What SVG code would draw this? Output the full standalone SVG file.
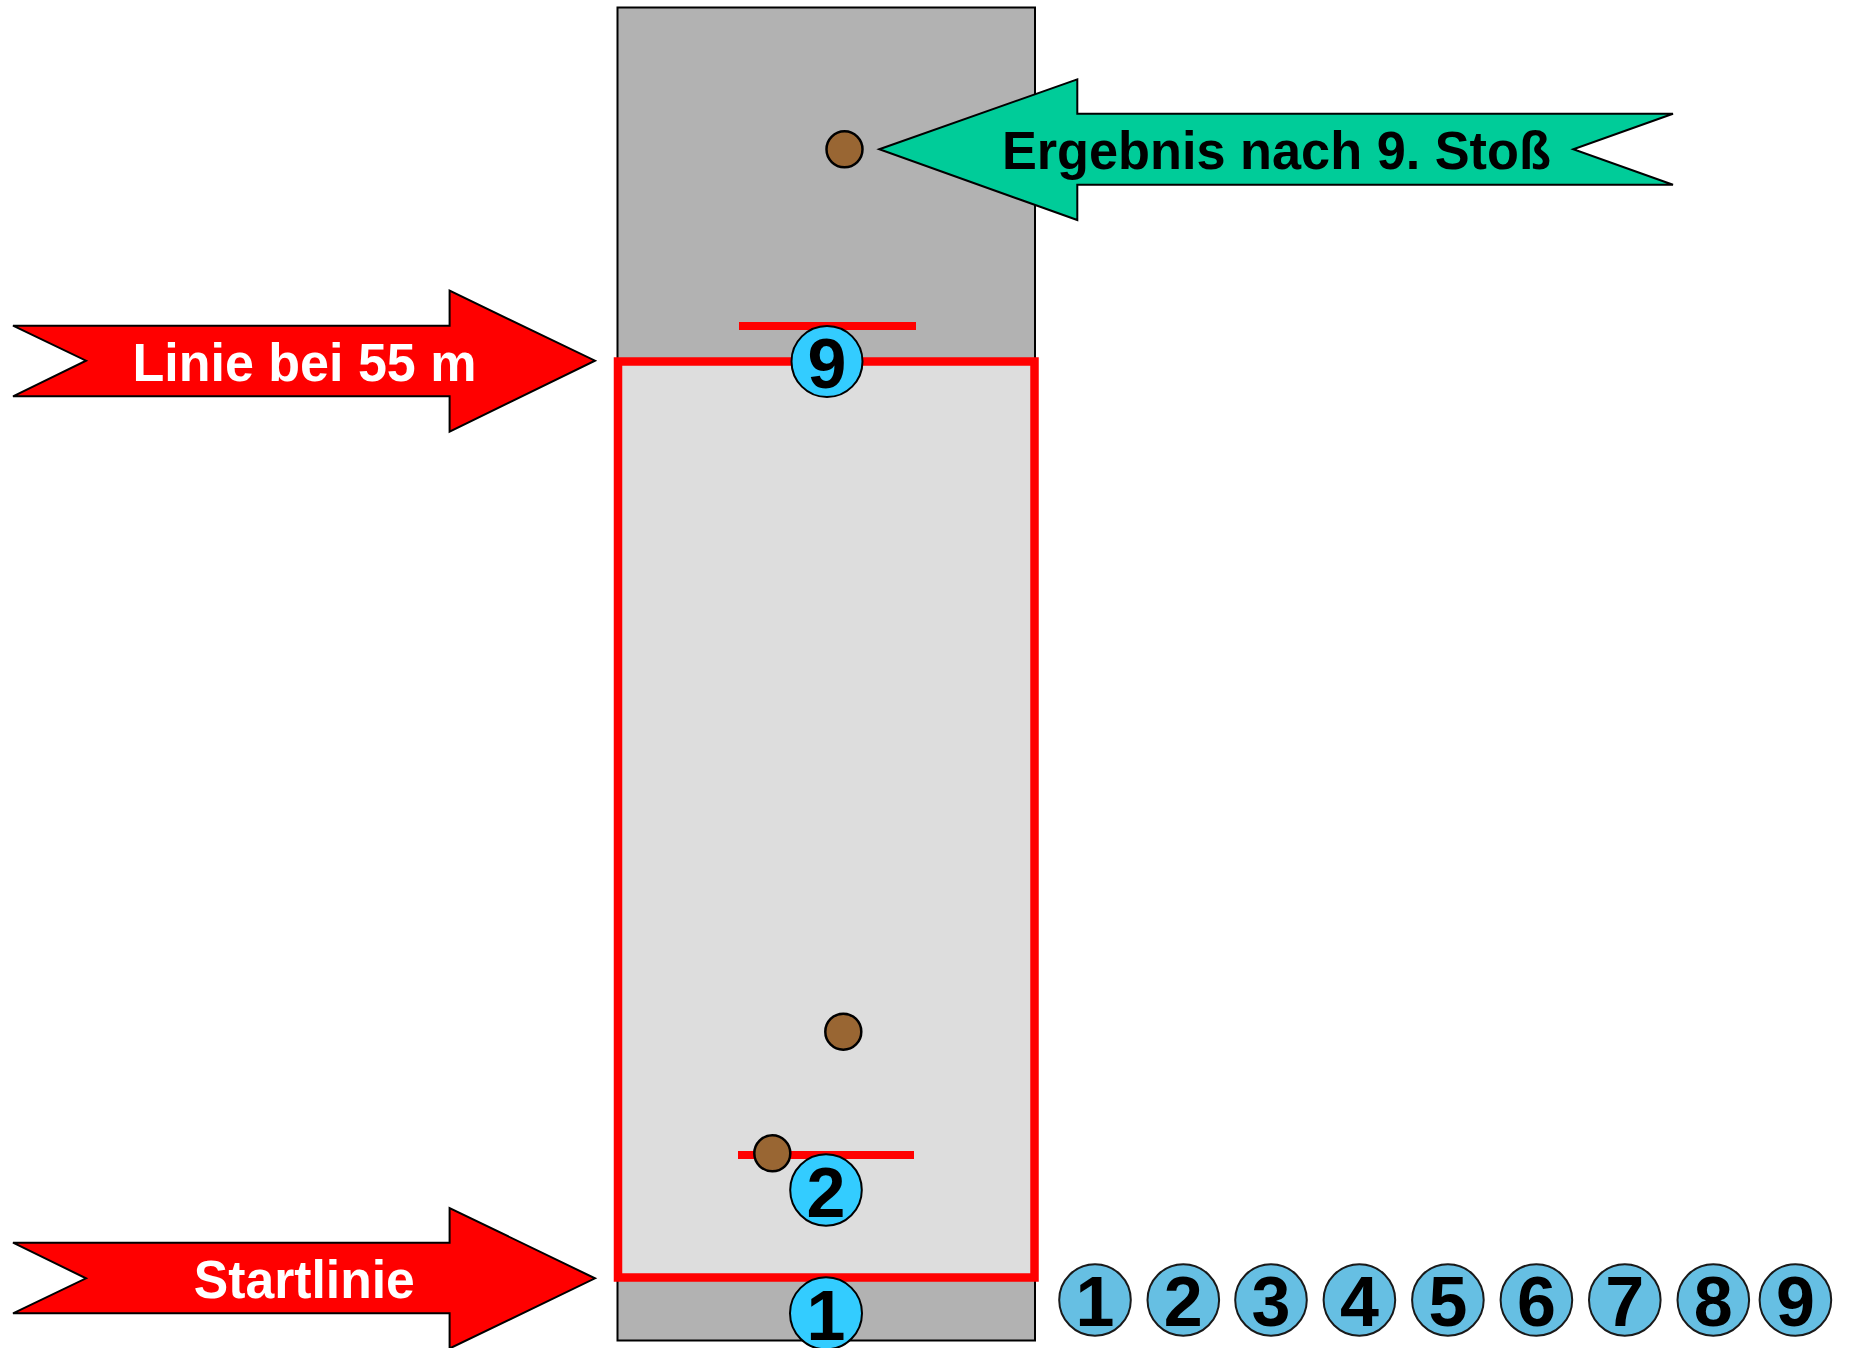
<svg xmlns="http://www.w3.org/2000/svg" width="1852" height="1348" viewBox="0 0 1852 1348">
<style>
.lbl{font-family:"Liberation Sans",Arial,sans-serif;font-weight:bold;font-size:53px;text-anchor:middle}
.num{font-family:"Liberation Sans",Arial,sans-serif;font-weight:bold;font-size:70px;text-anchor:middle;fill:#000}
.ball{fill:#996633;stroke:#000;stroke-width:2.5}
.mk{fill:#33ccff;stroke:#000;stroke-width:2}
.row{fill:#66bfe3;stroke:#1a1a1a;stroke-width:2}
.redline{stroke:#ff0000;stroke-width:8;fill:none}
.arrow{stroke:#000;stroke-width:2;stroke-linejoin:miter}
</style>
<rect width="1852" height="1348" fill="#ffffff"/>
<g id="lane">
<rect x="617.5" y="7.5" width="417.5" height="1333" fill="#b2b2b2" stroke="#000" stroke-width="2"/>
<rect x="618" y="361.5" width="416.5" height="916" fill="#dddddd" stroke="#ff0000" stroke-width="8.5"/>
</g>
<g id="line-top"><line class="redline" x1="739" y1="326" x2="916" y2="326"/></g>
<g id="line-bottom"><line class="redline" x1="738" y1="1155" x2="914" y2="1155"/></g>
<g id="marker-9"><circle class="mk" cx="827" cy="361.5" r="35.5"/><text class="num" x="827" y="388">9</text></g>
<g id="marker-2"><circle class="mk" cx="826" cy="1190" r="35.8"/><text class="num" x="826" y="1216.5">2</text></g>
<g id="marker-1"><circle class="mk" cx="826" cy="1313.3" r="36"/><text class="num" x="826" y="1340">1</text></g>
<g id="ball-top"><circle class="ball" cx="844.5" cy="149.3" r="18"/></g>
<g id="ball-mid"><circle class="ball" cx="843.3" cy="1031.7" r="18"/></g>
<g id="ball-low"><circle class="ball" cx="772.3" cy="1153.3" r="18"/></g>
<g id="arrow-result">
<polygon class="arrow" fill="#00cc99" points="879.3,149.3 1077.3,79.3 1077.3,113.8 1673,113.8 1573.3,149.3 1673,184.8 1077.3,184.8 1077.3,220"/>
<text class="lbl" x="1276.4" y="169.3" fill="#000" textLength="549" lengthAdjust="spacingAndGlyphs">Ergebnis nach 9. Stoß</text>
</g>
<g id="arrow-55m">
<polygon class="arrow" fill="#ff0000" points="13,325.7 449.6,325.7 449.6,290.7 595,360.7 449.6,431.7 449.6,396.3 13,396.3 86,360.7"/>
<text class="lbl" x="304.5" y="381" fill="#fff" textLength="344" lengthAdjust="spacingAndGlyphs">Linie bei 55 m</text>
</g>
<g id="arrow-start">
<polygon class="arrow" fill="#ff0000" points="13,1242.7 449.6,1242.7 449.6,1208 595,1278.3 449.6,1348.5 449.6,1313.3 13,1313.3 86,1278.3"/>
<text class="lbl" x="304.3" y="1298.3" fill="#fff" textLength="221" lengthAdjust="spacingAndGlyphs">Startlinie</text>
</g>
<g id="row">
<g id="row-1"><circle class="row" cx="1095" cy="1300" r="35.8"/><text class="num" x="1095" y="1326">1</text></g>
<g id="row-2"><circle class="row" cx="1183.3" cy="1300" r="35.8"/><text class="num" x="1183.3" y="1326">2</text></g>
<g id="row-3"><circle class="row" cx="1271" cy="1300" r="35.8"/><text class="num" x="1271" y="1326">3</text></g>
<g id="row-4"><circle class="row" cx="1359.4" cy="1300" r="35.8"/><text class="num" x="1359.4" y="1326">4</text></g>
<g id="row-5"><circle class="row" cx="1447.9" cy="1300" r="35.8"/><text class="num" x="1447.9" y="1326">5</text></g>
<g id="row-6"><circle class="row" cx="1536.4" cy="1300" r="35.8"/><text class="num" x="1536.4" y="1326">6</text></g>
<g id="row-7"><circle class="row" cx="1624.8" cy="1300" r="35.8"/><text class="num" x="1624.8" y="1326">7</text></g>
<g id="row-8"><circle class="row" cx="1713.3" cy="1300" r="35.8"/><text class="num" x="1713.3" y="1326">8</text></g>
<g id="row-9"><circle class="row" cx="1795.4" cy="1300" r="35.8"/><text class="num" x="1795.4" y="1326">9</text></g>
</g>
<g id="connectors"/>
</svg>
